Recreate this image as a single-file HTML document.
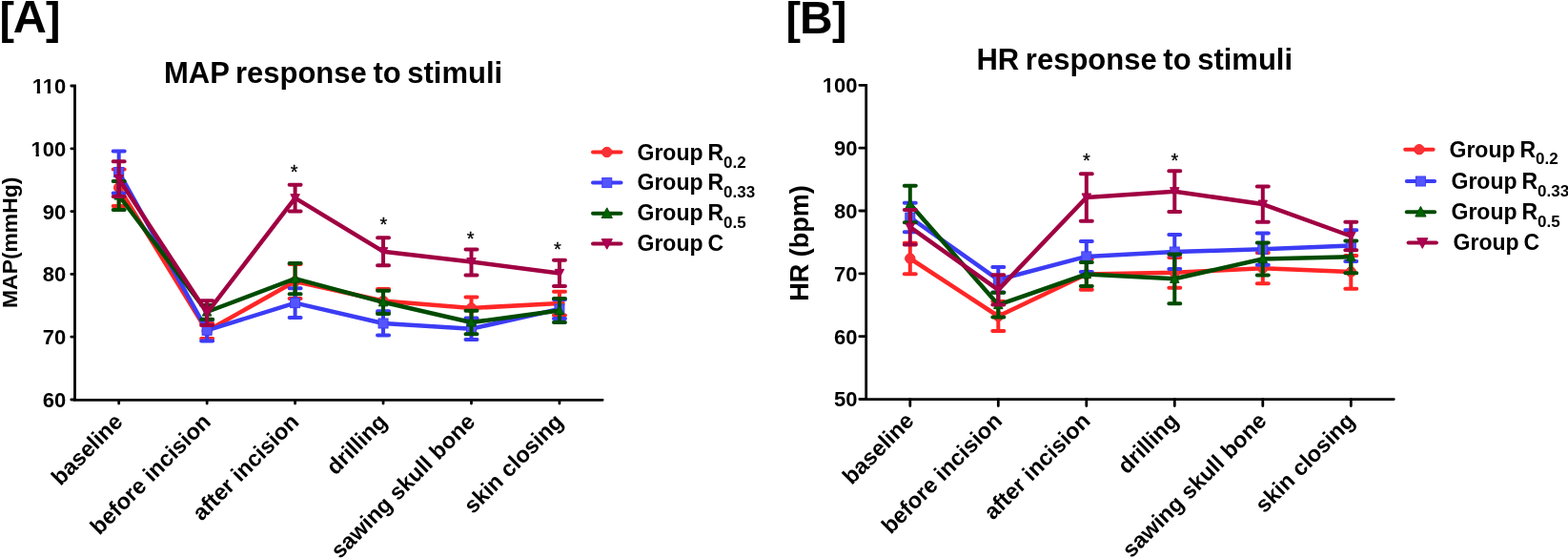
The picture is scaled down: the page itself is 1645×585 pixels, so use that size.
<!DOCTYPE html>
<html><head><meta charset="utf-8"><title>MAP and HR response to stimuli</title>
<style>html,body{margin:0;padding:0;background:#fff;}body{width:1645px;height:585px;overflow:hidden;}svg{display:block;filter:blur(0.35px);}</style>
</head><body>
<svg width="1645" height="585" viewBox="0 0 1645 585" font-family='"Liberation Sans", Arial, Helvetica, sans-serif'>
<rect width="1645" height="585" fill="#fff"/>
<text y="34.6" font-size="46.4" font-weight="bold"><tspan x="-0.5">[</tspan><tspan x="13.7" font-size="48.6" dy="-0.2">A</tspan><tspan x="48.1" dy="0.2">]</tspan></text>
<text x="349.6" y="87" text-anchor="middle" font-size="31" font-weight="bold" word-spacing="-2">MAP response to stimuli</text>
<path d="M74.8 90H78.5V419.3H632.2" stroke="#000" stroke-width="2.8" fill="none" stroke-linecap="round" stroke-linejoin="miter"/>
<path d="M74.8 155.8H78.5M74.8 221.6H78.5M74.8 287.4H78.5M74.8 353.2H78.5M74.8 419H78.5M124.7 419.3V423M217.15 419.3V423M309.6 419.3V423M402.05 419.3V423M494.5 419.3V423M586.95 419.3V423" stroke="#000" stroke-width="2.8" stroke-linecap="round" fill="none"/>
<text x="69.3" y="97.9" text-anchor="end" font-size="22" font-weight="bold">110</text>
<text x="69.3" y="163.7" text-anchor="end" font-size="22" font-weight="bold">100</text>
<text x="69.3" y="229.5" text-anchor="end" font-size="22" font-weight="bold">90</text>
<text x="69.3" y="295.3" text-anchor="end" font-size="22" font-weight="bold">80</text>
<text x="69.3" y="361.1" text-anchor="end" font-size="22" font-weight="bold">70</text>
<text x="69.3" y="426.9" text-anchor="end" font-size="22" font-weight="bold">60</text>
<g fill="#fff"><rect x="34.29" y="94.45" width="4.5" height="4.65"/><rect x="42.11" y="94.45" width="4.22" height="4.65"/><rect x="45.32" y="94.45" width="4.5" height="4.65"/><rect x="53.13" y="94.45" width="4.22" height="4.65"/><rect x="33.08" y="160.25" width="4.5" height="4.65"/><rect x="40.9" y="160.25" width="4.22" height="4.65"/></g>
<text transform="translate(17.8,254.3) rotate(-90)" text-anchor="middle" font-size="22.9" font-weight="bold">MAP(mmHg)</text>
<text transform="translate(130,443.5) rotate(-45)" text-anchor="end" font-size="23.5" font-weight="bold">baseline</text>
<text transform="translate(222.45,443.5) rotate(-45)" text-anchor="end" font-size="23.5" font-weight="bold">before incision</text>
<text transform="translate(314.9,443.5) rotate(-45)" text-anchor="end" font-size="23.5" font-weight="bold">after incision</text>
<text transform="translate(407.35,443.5) rotate(-45)" text-anchor="end" font-size="23.5" font-weight="bold">drilling</text>
<text transform="translate(499.8,443.5) rotate(-45)" text-anchor="end" font-size="23.5" font-weight="bold">sawing skull bone</text>
<text transform="translate(592.25,443.5) rotate(-45)" text-anchor="end" font-size="23.5" font-weight="bold">skin closing</text>
<g stroke="#FF2626" fill="none" stroke-linecap="round"><path d="M124.7 177.4V216M118.7 177.4H130.7M118.7 216H130.7" stroke-width="4.0"/><path d="M217.15 338.9V355.1M211.15 338.9H223.15M211.15 355.1H223.15" stroke-width="4.0"/><path d="M309.6 277V313M303.6 277H315.6M303.6 313H315.6" stroke-width="4.0"/><path d="M402.05 303V328M396.05 303H408.05M396.05 328H408.05" stroke-width="4.0"/><path d="M494.5 311.5V334.5M488.5 311.5H500.5M488.5 334.5H500.5" stroke-width="4.0"/><path d="M586.95 305.7V330.4M580.95 305.7H592.95M580.95 330.4H592.95" stroke-width="4.0"/><polyline points="124.7,196.7 217.15,347 309.6,295 402.05,315.5 494.5,323 586.95,318" stroke-width="4.5" stroke-linejoin="round"/></g>
<circle cx="124.7" cy="196.7" r="5.2" fill="#F83038" stroke="#FF2626" stroke-width="1"/>
<circle cx="217.15" cy="347" r="5.2" fill="#F83038" stroke="#FF2626" stroke-width="1"/>
<circle cx="309.6" cy="295" r="5.2" fill="#F83038" stroke="#FF2626" stroke-width="1"/>
<circle cx="402.05" cy="315.5" r="5.2" fill="#F83038" stroke="#FF2626" stroke-width="1"/>
<circle cx="494.5" cy="323" r="5.2" fill="#F83038" stroke="#FF2626" stroke-width="1"/>
<circle cx="586.95" cy="318" r="5.2" fill="#F83038" stroke="#FF2626" stroke-width="1"/>
<g stroke="#3C3CF5" fill="none" stroke-linecap="round"><path d="M124.7 158.5V202.5M118.7 158.5H130.7M118.7 202.5H130.7" stroke-width="4.0"/><path d="M217.15 335.3V357.4M211.15 335.3H223.15M211.15 357.4H223.15" stroke-width="4.0"/><path d="M309.6 302.3V332.9M303.6 302.3H315.6M303.6 332.9H315.6" stroke-width="4.0"/><path d="M402.05 326.3V351.5M396.05 326.3H408.05M396.05 351.5H408.05" stroke-width="4.0"/><path d="M494.5 333.4V356M488.5 333.4H500.5M488.5 356H500.5" stroke-width="4.0"/><path d="M586.95 314V334M580.95 314H592.95M580.95 334H592.95" stroke-width="4.0"/><polyline points="124.7,180.5 217.15,346.3 309.6,317.6 402.05,339 494.5,344.7 586.95,324" stroke-width="4.5" stroke-linejoin="round"/></g>
<rect x="119.7" y="175.5" width="10" height="10" fill="#5555FF" stroke="#3C3CF5" stroke-width="1"/>
<rect x="212.15" y="341.3" width="10" height="10" fill="#5555FF" stroke="#3C3CF5" stroke-width="1"/>
<rect x="304.6" y="312.6" width="10" height="10" fill="#5555FF" stroke="#3C3CF5" stroke-width="1"/>
<rect x="397.05" y="334" width="10" height="10" fill="#5555FF" stroke="#3C3CF5" stroke-width="1"/>
<rect x="489.5" y="339.7" width="10" height="10" fill="#5555FF" stroke="#3C3CF5" stroke-width="1"/>
<rect x="581.95" y="319" width="10" height="10" fill="#5555FF" stroke="#3C3CF5" stroke-width="1"/>
<g stroke="#004B00" fill="none" stroke-linecap="round"><path d="M124.7 190V220M118.7 190H130.7M118.7 220H130.7" stroke-width="4.0"/><path d="M217.15 319.9V334.8M211.15 319.9H223.15M211.15 334.8H223.15" stroke-width="4.0"/><path d="M309.6 276V308.3M303.6 276H315.6M303.6 308.3H315.6" stroke-width="4.0"/><path d="M402.05 304.8V328.9M396.05 304.8H408.05M396.05 328.9H408.05" stroke-width="4.0"/><path d="M494.5 325.7V350.3M488.5 325.7H500.5M488.5 350.3H500.5" stroke-width="4.0"/><path d="M586.95 312.9V338.1M580.95 312.9H592.95M580.95 338.1H592.95" stroke-width="4.0"/><polyline points="124.7,205 217.15,327 309.6,292.2 402.05,316.8 494.5,338 586.95,325.5" stroke-width="4.5" stroke-linejoin="round"/></g>
<polygon points="124.7,200 129.46,209.05 119.94,209.05" fill="#006400" stroke="#004B00" stroke-width="1" stroke-linejoin="round"/>
<polygon points="217.15,322 221.91,331.05 212.39,331.05" fill="#006400" stroke="#004B00" stroke-width="1" stroke-linejoin="round"/>
<polygon points="309.6,287.2 314.36,296.25 304.84,296.25" fill="#006400" stroke="#004B00" stroke-width="1" stroke-linejoin="round"/>
<polygon points="402.05,311.8 406.81,320.85 397.29,320.85" fill="#006400" stroke="#004B00" stroke-width="1" stroke-linejoin="round"/>
<polygon points="494.5,333 499.26,342.05 489.74,342.05" fill="#006400" stroke="#004B00" stroke-width="1" stroke-linejoin="round"/>
<polygon points="586.95,320.5 591.71,329.55 582.19,329.55" fill="#006400" stroke="#004B00" stroke-width="1" stroke-linejoin="round"/>
<g stroke="#A00042" fill="none" stroke-linecap="round"><path d="M124.7 169.2V205.9M118.7 169.2H130.7M118.7 205.9H130.7" stroke-width="4.0"/><path d="M217.15 315.3V340.9M211.15 315.3H223.15M211.15 340.9H223.15" stroke-width="4.0"/><path d="M309.6 193.8V221.5M303.6 193.8H315.6M303.6 221.5H315.6" stroke-width="4.0"/><path d="M402.05 249.2V278.3M396.05 249.2H408.05M396.05 278.3H408.05" stroke-width="4.0"/><path d="M494.5 261.5V288.5M488.5 261.5H500.5M488.5 288.5H500.5" stroke-width="4.0"/><path d="M586.95 272.8V300.1M580.95 272.8H592.95M580.95 300.1H592.95" stroke-width="4.0"/><polyline points="124.7,187.5 217.15,328.1 309.6,207.7 402.05,263.7 494.5,274.6 586.95,286.4" stroke-width="4.5" stroke-linejoin="round"/></g>
<polygon points="124.7,192.5 129.46,183.45 119.94,183.45" fill="#AC0054" stroke="#A00042" stroke-width="1" stroke-linejoin="round"/>
<polygon points="217.15,333.1 221.91,324.05 212.39,324.05" fill="#AC0054" stroke="#A00042" stroke-width="1" stroke-linejoin="round"/>
<polygon points="309.6,212.7 314.36,203.65 304.84,203.65" fill="#AC0054" stroke="#A00042" stroke-width="1" stroke-linejoin="round"/>
<polygon points="402.05,268.7 406.81,259.65 397.29,259.65" fill="#AC0054" stroke="#A00042" stroke-width="1" stroke-linejoin="round"/>
<polygon points="494.5,279.6 499.26,270.55 489.74,270.55" fill="#AC0054" stroke="#A00042" stroke-width="1" stroke-linejoin="round"/>
<polygon points="586.95,291.4 591.71,282.35 582.19,282.35" fill="#AC0054" stroke="#A00042" stroke-width="1" stroke-linejoin="round"/>
<text x="308.6" y="186.8" text-anchor="middle" font-size="20" stroke="#000" stroke-width="0.3">*</text>
<text x="402.4" y="242.1" text-anchor="middle" font-size="20" stroke="#000" stroke-width="0.3">*</text>
<text x="493.6" y="256.6" text-anchor="middle" font-size="20" stroke="#000" stroke-width="0.3">*</text>
<text x="585" y="268" text-anchor="middle" font-size="20" stroke="#000" stroke-width="0.3">*</text>
<path d="M622 159.5H651.5" stroke="#FF2626" stroke-width="4" stroke-linecap="round"/>
<circle cx="636.75" cy="159.5" r="5.2" fill="#F83038" stroke="#FF2626" stroke-width="1"/>
<text x="668.5" y="167.6" font-size="23" font-weight="bold" word-spacing="-1.5">Group R<tspan font-size="17" dy="7.9">0.2</tspan></text>
<path d="M622 191.6H651.5" stroke="#3C3CF5" stroke-width="4" stroke-linecap="round"/>
<rect x="631.75" y="186.6" width="10" height="10" fill="#5555FF" stroke="#3C3CF5" stroke-width="1"/>
<text x="668.5" y="199.4" font-size="23" font-weight="bold" word-spacing="-1.5">Group R<tspan font-size="17" dy="7.9">0.33</tspan></text>
<path d="M622 223.7H651.5" stroke="#004B00" stroke-width="4" stroke-linecap="round"/>
<polygon points="636.75,217.82 642.35,228.46 631.15,228.46" fill="#006400" stroke="#004B00" stroke-width="1" stroke-linejoin="round"/>
<text x="668.5" y="231.2" font-size="23" font-weight="bold" word-spacing="-1.5">Group R<tspan font-size="17" dy="7.9">0.5</tspan></text>
<path d="M622 255.4H651.5" stroke="#A00042" stroke-width="4" stroke-linecap="round"/>
<polygon points="636.75,261.28 642.35,250.64 631.15,250.64" fill="#AC0054" stroke="#A00042" stroke-width="1" stroke-linejoin="round"/>
<text x="668.5" y="262.9" font-size="23" font-weight="bold" word-spacing="-1.5">Group C</text>
<text y="34.6" font-size="46.4" font-weight="bold"><tspan x="824.5">[</tspan><tspan x="839" font-size="48">B</tspan><tspan x="873.1">]</tspan></text>
<text x="1190.3" y="72.8" text-anchor="middle" font-size="31" font-weight="bold" word-spacing="-2">HR response to stimuli</text>
<path d="M901.8 89.3H908.7V418.6H1462.3" stroke="#000" stroke-width="2.8" fill="none" stroke-linecap="round" stroke-linejoin="miter"/>
<path d="M901.8 155.14H908.7M901.8 220.98H908.7M901.8 286.82H908.7M901.8 352.66H908.7M901.8 418.5H908.7M954.8 418.6V425.5M1047.3 418.6V425.5M1139.8 418.6V425.5M1232.3 418.6V425.5M1324.8 418.6V425.5M1417.3 418.6V425.5" stroke="#000" stroke-width="2.8" stroke-linecap="round" fill="none"/>
<text x="899.5" y="97.2" text-anchor="end" font-size="22" font-weight="bold">100</text>
<text x="899.5" y="163.04" text-anchor="end" font-size="22" font-weight="bold">90</text>
<text x="899.5" y="228.88" text-anchor="end" font-size="22" font-weight="bold">80</text>
<text x="899.5" y="294.72" text-anchor="end" font-size="22" font-weight="bold">70</text>
<text x="899.5" y="360.56" text-anchor="end" font-size="22" font-weight="bold">60</text>
<text x="899.5" y="426.4" text-anchor="end" font-size="22" font-weight="bold">50</text>
<g fill="#fff"><rect x="863.28" y="93.75" width="4.5" height="4.65"/><rect x="871.1" y="93.75" width="4.22" height="4.65"/></g>
<text transform="translate(847.5,255) rotate(-90)" text-anchor="middle" font-size="27" font-weight="bold">HR (bpm)</text>
<text transform="translate(960.1,442.6) rotate(-45)" text-anchor="end" font-size="23.5" font-weight="bold">baseline</text>
<text transform="translate(1052.6,442.6) rotate(-45)" text-anchor="end" font-size="23.5" font-weight="bold">before incision</text>
<text transform="translate(1145.1,442.6) rotate(-45)" text-anchor="end" font-size="23.5" font-weight="bold">after incision</text>
<text transform="translate(1237.6,442.6) rotate(-45)" text-anchor="end" font-size="23.5" font-weight="bold">drilling</text>
<text transform="translate(1330.1,442.6) rotate(-45)" text-anchor="end" font-size="23.5" font-weight="bold">sawing skull bone</text>
<text transform="translate(1422.6,442.6) rotate(-45)" text-anchor="end" font-size="23.5" font-weight="bold">skin closing</text>
<g stroke="#FF2626" fill="none" stroke-linecap="round"><path d="M954.8 254.7V287.3M948.8 254.7H960.8M948.8 287.3H960.8" stroke-width="4.0"/><path d="M1047.3 316V347M1041.3 316H1053.3M1041.3 347H1053.3" stroke-width="4.0"/><path d="M1139.8 271.2V303.8M1133.8 271.2H1145.8M1133.8 303.8H1145.8" stroke-width="4.0"/><path d="M1232.3 269.9V301.8M1226.3 269.9H1238.3M1226.3 301.8H1238.3" stroke-width="4.0"/><path d="M1324.8 265.1V297.2M1318.8 265.1H1330.8M1318.8 297.2H1330.8" stroke-width="4.0"/><path d="M1417.3 268V302.7M1411.3 268H1423.3M1411.3 302.7H1423.3" stroke-width="4.0"/><polyline points="954.8,271 1047.3,331.5 1139.8,287.5 1232.3,285.8 1324.8,281.2 1417.3,285" stroke-width="4.5" stroke-linejoin="round"/></g>
<circle cx="954.8" cy="271" r="5.2" fill="#F83038" stroke="#FF2626" stroke-width="1"/>
<circle cx="1047.3" cy="331.5" r="5.2" fill="#F83038" stroke="#FF2626" stroke-width="1"/>
<circle cx="1139.8" cy="287.5" r="5.2" fill="#F83038" stroke="#FF2626" stroke-width="1"/>
<circle cx="1232.3" cy="285.8" r="5.2" fill="#F83038" stroke="#FF2626" stroke-width="1"/>
<circle cx="1324.8" cy="281.2" r="5.2" fill="#F83038" stroke="#FF2626" stroke-width="1"/>
<circle cx="1417.3" cy="285" r="5.2" fill="#F83038" stroke="#FF2626" stroke-width="1"/>
<g stroke="#3C3CF5" fill="none" stroke-linecap="round"><path d="M954.8 212.7V243.2M948.8 212.7H960.8M948.8 243.2H960.8" stroke-width="4.0"/><path d="M1047.3 280V306.6M1041.3 280H1053.3M1041.3 306.6H1053.3" stroke-width="4.0"/><path d="M1139.8 252.9V284.9M1133.8 252.9H1145.8M1133.8 284.9H1145.8" stroke-width="4.0"/><path d="M1232.3 245.9V282.1M1226.3 245.9H1238.3M1226.3 282.1H1238.3" stroke-width="4.0"/><path d="M1324.8 244.6V277.7M1318.8 244.6H1330.8M1318.8 277.7H1330.8" stroke-width="4.0"/><path d="M1417.3 241.2V273.9M1411.3 241.2H1423.3M1411.3 273.9H1423.3" stroke-width="4.0"/><polyline points="954.8,228 1047.3,293.3 1139.8,268.9 1232.3,264 1324.8,261.2 1417.3,257.6" stroke-width="4.5" stroke-linejoin="round"/></g>
<rect x="949.8" y="223" width="10" height="10" fill="#5555FF" stroke="#3C3CF5" stroke-width="1"/>
<rect x="1042.3" y="288.3" width="10" height="10" fill="#5555FF" stroke="#3C3CF5" stroke-width="1"/>
<rect x="1134.8" y="263.9" width="10" height="10" fill="#5555FF" stroke="#3C3CF5" stroke-width="1"/>
<rect x="1227.3" y="259" width="10" height="10" fill="#5555FF" stroke="#3C3CF5" stroke-width="1"/>
<rect x="1319.8" y="256.2" width="10" height="10" fill="#5555FF" stroke="#3C3CF5" stroke-width="1"/>
<rect x="1412.3" y="252.6" width="10" height="10" fill="#5555FF" stroke="#3C3CF5" stroke-width="1"/>
<g stroke="#004B00" fill="none" stroke-linecap="round"><path d="M954.8 194.7V233.2M948.8 194.7H960.8M948.8 233.2H960.8" stroke-width="4.0"/><path d="M1047.3 306.7V332.6M1041.3 306.7H1053.3M1041.3 332.6H1053.3" stroke-width="4.0"/><path d="M1139.8 275.1V300M1133.8 275.1H1145.8M1133.8 300H1145.8" stroke-width="4.0"/><path d="M1232.3 266.4V318.2M1226.3 266.4H1238.3M1226.3 318.2H1238.3" stroke-width="4.0"/><path d="M1324.8 254.4V288.5M1318.8 254.4H1330.8M1318.8 288.5H1330.8" stroke-width="4.0"/><path d="M1417.3 252.4V286.2M1411.3 252.4H1423.3M1411.3 286.2H1423.3" stroke-width="4.0"/><polyline points="954.8,214 1047.3,319.6 1139.8,287.5 1232.3,292.3 1324.8,271.5 1417.3,269.3" stroke-width="4.5" stroke-linejoin="round"/></g>
<polygon points="954.8,209 959.56,218.05 950.04,218.05" fill="#006400" stroke="#004B00" stroke-width="1" stroke-linejoin="round"/>
<polygon points="1047.3,314.6 1052.06,323.65 1042.54,323.65" fill="#006400" stroke="#004B00" stroke-width="1" stroke-linejoin="round"/>
<polygon points="1139.8,282.5 1144.56,291.55 1135.04,291.55" fill="#006400" stroke="#004B00" stroke-width="1" stroke-linejoin="round"/>
<polygon points="1232.3,287.3 1237.06,296.35 1227.54,296.35" fill="#006400" stroke="#004B00" stroke-width="1" stroke-linejoin="round"/>
<polygon points="1324.8,266.5 1329.56,275.55 1320.04,275.55" fill="#006400" stroke="#004B00" stroke-width="1" stroke-linejoin="round"/>
<polygon points="1417.3,264.3 1422.06,273.35 1412.54,273.35" fill="#006400" stroke="#004B00" stroke-width="1" stroke-linejoin="round"/>
<g stroke="#A00042" fill="none" stroke-linecap="round"><path d="M954.8 219.9V256.5M948.8 219.9H960.8M948.8 256.5H960.8" stroke-width="4.0"/><path d="M1047.3 288.2V319.5M1041.3 288.2H1053.3M1041.3 319.5H1053.3" stroke-width="4.0"/><path d="M1139.8 182.3V231.7M1133.8 182.3H1145.8M1133.8 231.7H1145.8" stroke-width="4.0"/><path d="M1232.3 179.3V222.1M1226.3 179.3H1238.3M1226.3 222.1H1238.3" stroke-width="4.0"/><path d="M1324.8 195.6V232.7M1318.8 195.6H1330.8M1318.8 232.7H1330.8" stroke-width="4.0"/><path d="M1417.3 232.7V262.2M1411.3 232.7H1423.3M1411.3 262.2H1423.3" stroke-width="4.0"/><polyline points="954.8,238.2 1047.3,303.9 1139.8,207 1232.3,200.7 1324.8,214.1 1417.3,247.5" stroke-width="4.5" stroke-linejoin="round"/></g>
<polygon points="954.8,243.2 959.56,234.15 950.04,234.15" fill="#AC0054" stroke="#A00042" stroke-width="1" stroke-linejoin="round"/>
<polygon points="1047.3,308.9 1052.06,299.85 1042.54,299.85" fill="#AC0054" stroke="#A00042" stroke-width="1" stroke-linejoin="round"/>
<polygon points="1139.8,212 1144.56,202.95 1135.04,202.95" fill="#AC0054" stroke="#A00042" stroke-width="1" stroke-linejoin="round"/>
<polygon points="1232.3,205.7 1237.06,196.65 1227.54,196.65" fill="#AC0054" stroke="#A00042" stroke-width="1" stroke-linejoin="round"/>
<polygon points="1324.8,219.1 1329.56,210.05 1320.04,210.05" fill="#AC0054" stroke="#A00042" stroke-width="1" stroke-linejoin="round"/>
<polygon points="1417.3,252.5 1422.06,243.45 1412.54,243.45" fill="#AC0054" stroke="#A00042" stroke-width="1" stroke-linejoin="round"/>
<text x="1139.8" y="174.9" text-anchor="middle" font-size="20" stroke="#000" stroke-width="0.3">*</text>
<text x="1232.3" y="174.9" text-anchor="middle" font-size="20" stroke="#000" stroke-width="0.3">*</text>
<path d="M1474.2 156.7H1503.6" stroke="#FF2626" stroke-width="4" stroke-linecap="round"/>
<circle cx="1488.9" cy="156.7" r="5.2" fill="#F83038" stroke="#FF2626" stroke-width="1"/>
<text x="1520.5" y="164.5" font-size="23" font-weight="bold" word-spacing="-1.5">Group R<tspan font-size="17" dy="7.9">0.2</tspan></text>
<path d="M1475.8 190H1505.1" stroke="#3C3CF5" stroke-width="4" stroke-linecap="round"/>
<rect x="1485.45" y="185" width="10" height="10" fill="#5555FF" stroke="#3C3CF5" stroke-width="1"/>
<text x="1522.5" y="198" font-size="23" font-weight="bold" word-spacing="-1.5">Group R<tspan font-size="17" dy="7.9">0.33</tspan></text>
<path d="M1475.8 222.3H1505.1" stroke="#004B00" stroke-width="4" stroke-linecap="round"/>
<polygon points="1490.45,216.42 1496.05,227.06 1484.85,227.06" fill="#006400" stroke="#004B00" stroke-width="1" stroke-linejoin="round"/>
<text x="1522.5" y="230.1" font-size="23" font-weight="bold" word-spacing="-1.5">Group R<tspan font-size="17" dy="7.9">0.5</tspan></text>
<path d="M1477.6 254.5H1506.9" stroke="#A00042" stroke-width="4" stroke-linecap="round"/>
<polygon points="1492.25,260.38 1497.85,249.74 1486.65,249.74" fill="#AC0054" stroke="#A00042" stroke-width="1" stroke-linejoin="round"/>
<text x="1524.6" y="262.2" font-size="23" font-weight="bold" word-spacing="-1.5">Group C</text>
</svg>
</body></html>
